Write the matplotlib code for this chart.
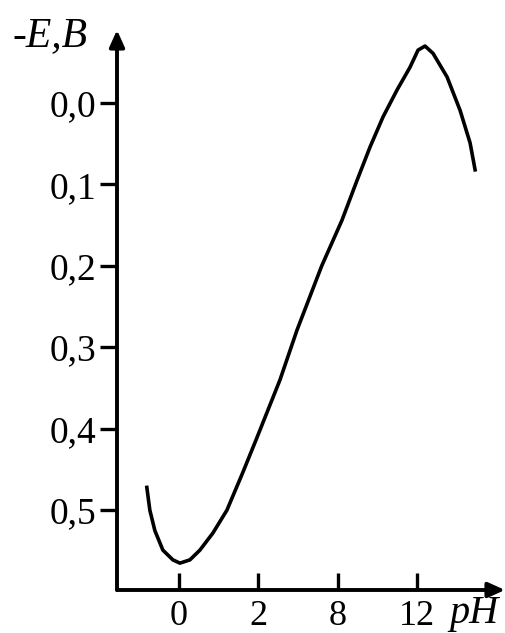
import matplotlib.pyplot as plt

# x positions are evenly spaced slots for the pH labels
ph_labels = ['0', '2', '8', '12']
ph_pos = [0, 1, 2, 3]

e_values = [0.0, 0.1, 0.2, 0.3, 0.4, 0.5]
e_labels = ['0,0', '0,1', '0,2', '0,3', '0,4', '0,5']

# curve (x in slot units, y = -E in volts)
curve_x = [-0.404, -0.366, -0.303, -0.202, -0.076, 0.013, 0.139, 0.265, 0.429,
           0.605, 0.80, 0.971, 1.274, 1.488, 1.800, 2.055, 2.245, 2.409, 2.573,
           2.749, 2.913, 3.014, 3.102, 3.203, 3.380, 3.544, 3.670, 3.733]
curve_y = [0.472, 0.500, 0.525, 0.549, 0.561, 0.565, 0.561, 0.549, 0.528,
           0.500, 0.455, 0.414, 0.340, 0.279, 0.200, 0.144, 0.095, 0.054, 0.017,
           -0.016, -0.044, -0.065, -0.070, -0.061, -0.032, 0.009, 0.049, 0.082]

plt.rcParams['font.family'] = 'Liberation Serif'

fig = plt.figure(figsize=(5.05, 6.33), dpi=100)
ax = fig.add_axes([117 / 505, 1 - 590 / 633, 1 - 117 / 505, (590 - 30) / 633])

ax.plot(curve_x, curve_y, color='black', lw=2.6, solid_joinstyle='round')

ax.set_xlim(-0.78, 4.11)
ax.set_ylim(0.598, -0.0897)

for s in ax.spines.values():
    s.set_visible(False)

# axis arrows
ax.annotate('', xy=(0, 1), xytext=(0, 0), xycoords='axes fraction',
            arrowprops=dict(arrowstyle='-|>,head_length=1.0,head_width=0.45',
                            color='black', lw=2.8, shrinkA=0, shrinkB=0))
ax.annotate('', xy=(1, 0), xytext=(0, 0), xycoords='axes fraction',
            arrowprops=dict(arrowstyle='-|>,head_length=1.0,head_width=0.45',
                            color='black', lw=2.8, shrinkA=0, shrinkB=0))

ax.set_yticks(e_values)
ax.set_yticklabels(e_labels)
ax.tick_params(axis='y', direction='out', length=12, width=2.4, pad=3, labelsize=27)

ax.set_xticks(ph_pos)
ax.set_xticklabels(ph_labels)
ax.tick_params(axis='x', direction='in', length=12, width=2.4, pad=7, labelsize=26)

fig.text(12 / 505, 1 - 36 / 633, '-E,B', fontsize=30, style='italic', va='center', ha='left')
fig.text(499 / 505, 1 - 614 / 633, 'pH', fontsize=29, style='italic', va='center', ha='right')

fig.savefig('out.png', dpi=100, facecolor='white')
